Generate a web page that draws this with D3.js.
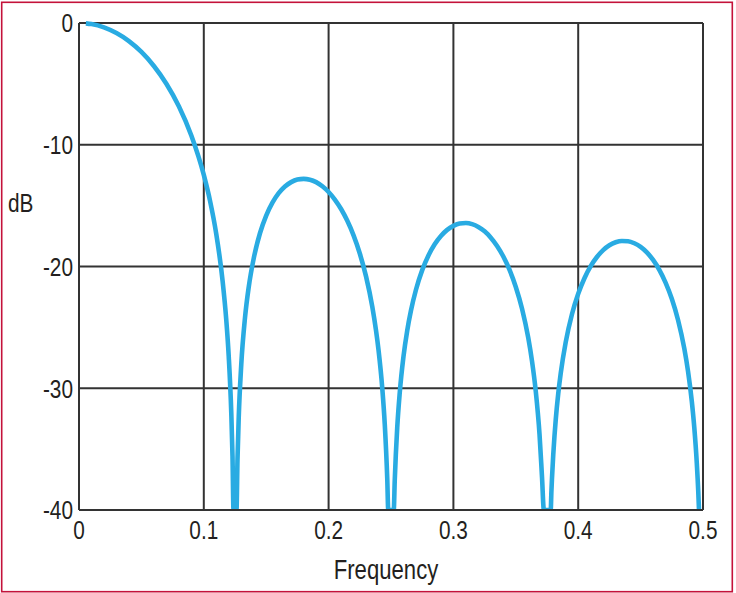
<!DOCTYPE html>
<html>
<head>
<meta charset="utf-8">
<script src="https://cdn.jsdelivr.net/npm/d3@7/dist/d3.min.js"></script>
<style>
  html, body { margin: 0; padding: 0; background: #ffffff; }
  svg { display: block; }
  text { font-family: "Liberation Sans", Arial, Helvetica, sans-serif; fill: #231f20; }
</style>
</head>
<body>
<svg id="chart" width="736" height="593"></svg>
<script>
// ---- data ----
const frequency = [
  0.0055, 0.01, 0.02, 0.03, 0.04, 0.05, 0.06, 0.07, 0.08, 0.09, 0.10, 0.105, 0.11, 0.115, 0.118, 0.12, 0.122, 0.123, 0.1238,
  0.1262, 0.127, 0.128, 0.13, 0.133, 0.136, 0.14, 0.145, 0.15, 0.155, 0.16, 0.165, 0.17, 0.175, 0.18, 0.185, 0.19, 0.195,
  0.2, 0.205, 0.21, 0.215, 0.22, 0.225, 0.23, 0.235, 0.238, 0.24, 0.243, 0.245, 0.247, 0.2478,
  0.2522, 0.253, 0.255, 0.257, 0.26, 0.263, 0.266, 0.27, 0.275, 0.28, 0.285, 0.29, 0.295, 0.3, 0.305, 0.31, 0.315,
  0.32, 0.325, 0.33, 0.335, 0.34, 0.345, 0.35, 0.355, 0.36, 0.363, 0.366, 0.369, 0.371, 0.3725,
  0.3780, 0.3785, 0.379, 0.380, 0.381, 0.382, 0.384, 0.386, 0.39, 0.395, 0.40, 0.405, 0.41, 0.415, 0.42, 0.425, 0.43, 0.435, 0.44, 0.445, 0.45,
  0.455, 0.46, 0.465, 0.47, 0.475, 0.48, 0.485, 0.488, 0.491, 0.493, 0.495, 0.4962, 0.4968
];
const magnitudeDb = [
  -0.03, -0.09, -0.36, -0.83, -1.49, -2.38, -3.53, -4.99, -6.84, -9.24, -12.48, -14.61, -17.34, -21.12, -24.38, -27.42, -31.98, -35.56, -40,
  -40, -35.83, -32.37, -28.08, -24.22, -21.69, -19.33, -17.27, -15.82, -14.76, -13.98, -13.43, -13.07, -12.86, -12.80, -12.87, -13.07, -13.41,
  -13.88, -14.50, -15.28, -16.25, -17.44, -18.93, -20.81, -23.30, -25.26, -26.86, -29.99, -32.95, -37.43, -40,
  -40, -37.59, -33.22, -30.38, -27.40, -25.26, -23.62, -21.91, -20.30, -19.09, -18.17, -17.49, -16.99, -16.66, -16.47, -16.43, -16.52,
  -16.75, -17.11, -17.63, -18.31, -19.18, -20.28, -21.68, -23.47, -25.87, -27.78, -30.25, -33.77, -37.30, -40,
  -40, -38.54, -37.39, -35.47, -33.91, -32.59, -30.46, -28.77, -26.21, -23.92, -22.24, -20.96, -19.97, -19.22, -18.65, -18.25, -18.01, -17.90, -17.92, -18.09, -18.39,
  -18.84, -19.46, -20.27, -21.32, -22.65, -24.39, -26.73, -28.60, -31.04, -33.20, -36.10, -38.47, -40
];
const xTicks = [0, 0.1, 0.2, 0.3, 0.4, 0.5];
const xTickLabels = ["0", "0.1", "0.2", "0.3", "0.4", "0.5"];
const yTicks = [0, -10, -20, -30, -40];
const yTickLabels = ["0", "-10", "-20", "-30", "-40"];
const xTitle = "Frequency";
const yTitle = "dB";

// ---- layout ----
const W = 736, H = 593;
const plot = { left: 79, right: 703, top: 23, bottom: 510 };
const squeeze = 0.8;

const svg = d3.select("#chart");

// outer frame
svg.append("rect")
  .attr("x", 1.7).attr("y", 2.3)
  .attr("width", 730.6).attr("height", 589.4)
  .attr("fill", "#ffffff")
  .attr("stroke", "#c4123a")
  .attr("stroke-width", 1.6);

const x = d3.scaleLinear().domain([0, 0.5]).range([plot.left, plot.right]);
const y = d3.scaleLinear().domain([0, -40]).range([plot.top, plot.bottom]);

// grid
const grid = svg.append("g");
grid.selectAll("line.v").data(xTicks).enter().append("line")
  .attr("x1", d => x(d)).attr("x2", d => x(d))
  .attr("y1", plot.top).attr("y2", plot.bottom)
  .attr("stroke", "#333333").attr("stroke-width", 2);
grid.selectAll("line.h").data(yTicks).enter().append("line")
  .attr("x1", plot.left).attr("x2", plot.right)
  .attr("y1", d => y(d)).attr("y2", d => y(d))
  .attr("stroke", "#333333").attr("stroke-width", 2);

// clip
svg.append("clipPath").attr("id", "plotclip").append("rect")
  .attr("x", plot.left).attr("y", plot.top - 4)
  .attr("width", plot.right - plot.left + 4).attr("height", plot.bottom - plot.top + 4);

const points = frequency.map((f, i) => [f, magnitudeDb[i]]);
const line = d3.line()
  .x(d => x(d[0]))
  .y(d => y(d[1]))
  .curve(d3.curveMonotoneX);

svg.append("path")
  .datum(points)
  .attr("clip-path", "url(#plotclip)")
  .attr("d", line)
  .attr("fill", "none")
  .attr("stroke", "#29abe2")
  .attr("stroke-width", 4.6)
  .attr("stroke-linejoin", "round")
  .attr("stroke-linecap", "butt");

// bottom axis line redrawn over curve
svg.append("line")
  .attr("x1", plot.left).attr("x2", plot.right)
  .attr("y1", plot.bottom).attr("y2", plot.bottom)
  .attr("stroke", "#333333").attr("stroke-width", 2);

// x tick labels
svg.append("g").selectAll("text").data(xTicks).enter().append("text")
  .attr("transform", d => `translate(${x(d)},${plot.bottom + 29}) scale(${squeeze},1)`)
  .attr("text-anchor", "middle")
  .attr("font-size", 26)
  .text((d, i) => xTickLabels[i]);

// y tick labels
svg.append("g").selectAll("text").data(yTicks).enter().append("text")
  .attr("transform", d => `translate(${plot.left - 6},${y(d)}) scale(${squeeze},1)`)
  .attr("text-anchor", "end")
  .attr("dy", "0.36em")
  .attr("font-size", 26)
  .text((d, i) => yTickLabels[i]);

// axis titles
svg.append("text")
  .attr("transform", `translate(386,579) scale(0.82,1)`)
  .attr("text-anchor", "middle")
  .attr("font-size", 27)
  .text(xTitle);

svg.append("text")
  .attr("transform", `translate(8,212) scale(${squeeze},1)`)
  .attr("text-anchor", "start")
  .attr("font-size", 26)
  .text(yTitle);
</script>
</body>
</html>
